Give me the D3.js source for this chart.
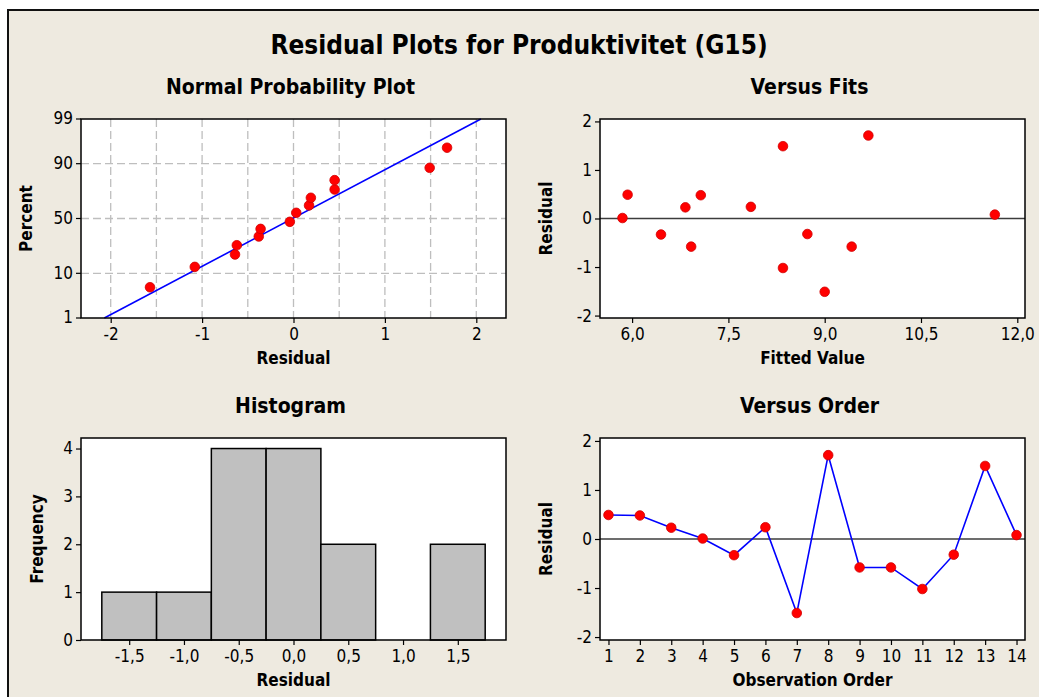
<!DOCTYPE html>
<html lang="en">
<head>
    <meta charset="UTF-8">
    <title>Residual Plots</title>
    <script src="https://cdn.jsdelivr.net/npm/d3@7"></script>
    <style>
        body { margin: 0; background: #FFFFFF; }
        text { font-family: 'DejaVu Sans Condensed', 'Liberation Sans', sans-serif; fill: #000; }
        .tick text { font-size: 17px; }
        .tick line { stroke: #000; stroke-width: 1.2px; }
        .domain { display: none; }
    </style>
</head>
<body>
<div id="canvas"></div>
<script>

    // residuals in observation order
    const orderIdx = [1, 2, 3, 4, 5, 6, 7, 8, 9, 10, 11, 12, 13, 14];
    const residuals = [0.49, 0.48, 0.23, 0.01, -0.33, 0.24, -1.51, 1.71, -0.58, -0.58, -1.02, -0.32, 1.49, 0.08];
    const fitted = [5.93, 7.07, 6.83, 5.85, 6.45, 7.85, 9.00, 9.68, 6.92, 9.42, 8.35, 8.73, 8.35, 11.65];

    // normal probability plot
    const nppResidual = [-1.57, -1.08, -0.64, -0.62, -0.38, -0.36, -0.04, 0.03, 0.17, 0.19, 0.45, 0.45, 1.49, 1.68];
    const nppPercent = [5.4, 12.9, 20.0, 26.6, 33.7, 40.4, 46.9, 55.3, 62.0, 68.6, 75.1, 81.5, 88.2, 95.1];
    const nppLine = [[-2.07, 1], [2.05, 99]];
    const nppTicksY = [1, 10, 50, 90, 99];
    const nppGridY = [10, 50, 90];

    // histogram
    const binMids = [-1.5, -1.0, -0.5, 0.0, 0.5, 1.0, 1.5];
    const binCounts = [1, 1, 4, 4, 2, 0, 2];
    const binWidth = 0.5;

    const fitsTicksX = [6.0, 7.5, 9.0, 10.5, 12.0];

    const W = 1039, H = 697;
    const FONT = "'DejaVu Sans Condensed', 'Liberation Sans', sans-serif";

    const svg = d3.select('#canvas')
        .append('svg')
        .attr('width', W)
        .attr('height', H);

    // background + frame
    svg.append('rect').attr('width', W).attr('height', H).attr('fill', '#FFFFFF');
    svg.append('rect')
        .attr('x', 8).attr('y', 10)
        .attr('width', W + 10).attr('height', H + 10)
        .attr('fill', '#EEEAE0')
        .attr('stroke', '#111')
        .attr('stroke-width', 2);

    svg.append('text')
        .attr('x', 519).attr('y', 54)
        .attr('text-anchor', 'middle')
        .style('font-size', '26px')
        .style('font-weight', 'bold')
        .text('Residual Plots for Produktivitet (G15)');

    const loc = d3.formatLocale({ decimal: ',', thousands: '.', grouping: [3], currency: ['', ''], minus: '-' });
    const f0 = loc.format('d');
    const f1 = loc.format('.1f');

    // panel helper: plot box + titles
    function panel(box, title, xLabel, yLabel, yLabelOff) {
        const g = svg.append('g');
        g.append('rect')
            .attr('x', box.x0).attr('y', box.y0)
            .attr('width', box.x1 - box.x0).attr('height', box.y1 - box.y0)
            .attr('fill', '#FFFFFF');
        const cx = (box.x0 + box.x1) / 2;
        g.append('text')
            .attr('x', cx - 3).attr('y', box.y0 - 25)
            .attr('text-anchor', 'middle')
            .style('font-size', '21px').style('font-weight', 'bold')
            .text(title);
        g.append('text')
            .attr('x', cx).attr('y', box.y1 + 46)
            .attr('text-anchor', 'middle')
            .style('font-size', '17px').style('font-weight', 'bold')
            .text(xLabel);
        g.append('text')
            .attr('transform', `translate(${box.x0 - yLabelOff},${(box.y0 + box.y1) / 2}) rotate(-90)`)
            .attr('text-anchor', 'middle')
            .style('font-size', '17px').style('font-weight', 'bold')
            .text(yLabel);
        return g;
    }

    function frame(g, box) {
        g.append('rect')
            .attr('x', box.x0).attr('y', box.y0)
            .attr('width', box.x1 - box.x0).attr('height', box.y1 - box.y0)
            .attr('fill', 'none')
            .attr('stroke', '#000')
            .attr('stroke-width', 1.5);
    }

    function axes(g, box, x, y, xTicks, yTicks, xFmt, yFmt) {
        g.append('g')
            .attr('transform', `translate(0,${box.y1})`)
            .call(d3.axisBottom(x).tickValues(xTicks).tickFormat(xFmt).tickSize(5).tickPadding(5));
        g.append('g')
            .attr('transform', `translate(${box.x0},0)`)
            .call(d3.axisLeft(y).tickValues(yTicks).tickFormat(yFmt).tickSize(5).tickPadding(3));
    }

    function dots(g, data) {
        g.selectAll(null)
            .data(data)
            .enter()
            .append('circle')
            .attr('cx', d => d[0]).attr('cy', d => d[1])
            .attr('r', 4.8)
            .attr('fill', '#FF0000')
            .attr('stroke', '#D00000')
            .attr('stroke-width', 0.8);
    }

    // inverse normal cdf (Acklam)
    function probit(p) {
        const a = [-3.969683028665376e+01, 2.209460984245205e+02, -2.759285104469687e+02, 1.383577518672690e+02, -3.066479806614716e+01, 2.506628277459239e+00];
        const b = [-5.447609879822406e+01, 1.615858368580409e+02, -1.556989798598866e+02, 6.680131188771972e+01, -1.328068155288572e+01];
        const c = [-7.784894002430293e-03, -3.223964580411365e-01, -2.400758277161838e+00, -2.549732539343734e+00, 4.374664141464968e+00, 2.938163982698783e+00];
        const d = [7.784695709041462e-03, 3.224671290700398e-01, 2.445134137142996e+00, 3.754408661907416e+00];
        const pl = 0.02425;
        let q, r;
        if (p < pl) {
            q = Math.sqrt(-2 * Math.log(p));
            return (((((c[0]*q+c[1])*q+c[2])*q+c[3])*q+c[4])*q+c[5]) / ((((d[0]*q+d[1])*q+d[2])*q+d[3])*q+1);
        }
        if (p > 1 - pl) {
            q = Math.sqrt(-2 * Math.log(1 - p));
            return -(((((c[0]*q+c[1])*q+c[2])*q+c[3])*q+c[4])*q+c[5]) / ((((d[0]*q+d[1])*q+d[2])*q+d[3])*q+1);
        }
        q = p - 0.5; r = q * q;
        return (((((a[0]*r+a[1])*r+a[2])*r+a[3])*r+a[4])*r+a[5])*q / (((((b[0]*r+b[1])*r+b[2])*r+b[3])*r+b[4])*r+1);
    }

    // ---- Normal Probability Plot
    {
        const box = { x0: 81, x1: 506, y0: 119, y1: 318 };
        const g = panel(box, 'Normal Probability Plot', 'Residual', 'Percent', 49);
        const x = d3.scaleLinear().domain([-2.325, 2.325]).range([box.x0, box.x1]);
        const z = d3.scaleLinear().domain([probit(0.01), probit(0.99)]).range([box.y1, box.y0]);
        const y = p => z(probit(p / 100));

        const gridX = d3.range(-2, 2.01, 0.5);
        g.selectAll(null).data(gridX).enter().append('line')
            .attr('x1', d => x(d)).attr('x2', d => x(d))
            .attr('y1', box.y0).attr('y2', box.y1)
            .attr('stroke', '#BEBEBE').attr('stroke-width', 1.3)
            .attr('stroke-dasharray', '8,4');
        g.selectAll(null).data(nppGridY).enter().append('line')
            .attr('x1', box.x0).attr('x2', box.x1)
            .attr('y1', d => y(d)).attr('y2', d => y(d))
            .attr('stroke', '#BEBEBE').attr('stroke-width', 1.3)
            .attr('stroke-dasharray', '8,4');

        g.append('path')
            .datum(nppLine)
            .attr('d', d3.line().x(d => x(d[0])).y(d => y(d[1])))
            .attr('fill', 'none').attr('stroke', '#0000FF').attr('stroke-width', 1.6);

        dots(g, nppResidual.map((r, i) => [x(r), y(nppPercent[i])]));
        frame(g, box);

        g.append('g')
            .attr('transform', `translate(0,${box.y1})`)
            .call(d3.axisBottom(x).tickValues([-2, -1, 0, 1, 2]).tickFormat(f0).tickSize(5).tickPadding(5));
        const ya = g.append('g');
        ya.selectAll(null).data(nppTicksY).enter().append('line')
            .attr('x1', box.x0 - 5).attr('x2', box.x0)
            .attr('y1', d => y(d)).attr('y2', d => y(d))
            .attr('stroke', '#000').attr('stroke-width', 1.2);
        ya.selectAll(null).data(nppTicksY).enter().append('text')
            .attr('x', box.x0 - 8).attr('y', d => y(d))
            .attr('dy', '0.32em')
            .attr('text-anchor', 'end')
            .style('font-size', '17px')
            .text(d => d);
    }

    // ---- Versus Fits
    {
        const box = { x0: 600, x1: 1025, y0: 119, y1: 318 };
        const g = panel(box, 'Versus Fits', 'Fitted Value', 'Residual', 48);
        const x = d3.scaleLinear().domain([5.5, 12.12]).range([box.x0, box.x1]);
        const y = d3.scaleLinear().domain([-2.05, 2.05]).range([box.y1, box.y0]);
        g.append('line')
            .attr('x1', box.x0).attr('x2', box.x1)
            .attr('y1', y(0)).attr('y2', y(0))
            .attr('stroke', '#3C3C3C').attr('stroke-width', 1.5);
        dots(g, fitted.map((f, i) => [x(f), y(residuals[i])]));
        frame(g, box);
        axes(g, box, x, y, fitsTicksX, [-2, -1, 0, 1, 2], f1, f0);
    }

    // ---- Histogram
    {
        const box = { x0: 81, x1: 506, y0: 438, y1: 640 };
        const g = panel(box, 'Histogram', 'Residual', 'Frequency', 38);
        const x = d3.scaleLinear().domain([-1.94, 1.94]).range([box.x0, box.x1]);
        const y = d3.scaleLinear().domain([0, 4.22]).range([box.y1, box.y0]);
        const bins = binMids.map((m, i) => ({ m, c: binCounts[i] })).filter(d => d.c > 0);
        g.selectAll(null).data(bins).enter().append('rect')
            .attr('x', d => x(d.m - binWidth / 2))
            .attr('width', d => x(d.m + binWidth / 2) - x(d.m - binWidth / 2))
            .attr('y', d => y(d.c))
            .attr('height', d => y(0) - y(d.c))
            .attr('fill', '#C0C0C0')
            .attr('stroke', '#000').attr('stroke-width', 1.5);
        frame(g, box);
        axes(g, box, x, y, binMids, [0, 1, 2, 3, 4], f1, f0);
    }

    // ---- Versus Order
    {
        const box = { x0: 600, x1: 1025, y0: 438, y1: 640 };
        const g = panel(box, 'Versus Order', 'Observation Order', 'Residual', 48);
        const x = d3.scaleLinear().domain([0.73, 14.27]).range([box.x0, box.x1]);
        const y = d3.scaleLinear().domain([-2.06, 2.06]).range([box.y1, box.y0]);
        g.append('line')
            .attr('x1', box.x0).attr('x2', box.x1)
            .attr('y1', y(0)).attr('y2', y(0))
            .attr('stroke', '#3C3C3C').attr('stroke-width', 1.5);
        g.append('path')
            .datum(orderIdx.map((o, i) => [o, residuals[i]]))
            .attr('d', d3.line().x(d => x(d[0])).y(d => y(d[1])))
            .attr('fill', 'none').attr('stroke', '#0000FF').attr('stroke-width', 1.6);
        dots(g, orderIdx.map((o, i) => [x(o), y(residuals[i])]));
        frame(g, box);
        axes(g, box, x, y, orderIdx, [-2, -1, 0, 1, 2], f0, f0);
    }

    svg.selectAll('text').style('font-family', FONT);

</script>
</body>
</html>
